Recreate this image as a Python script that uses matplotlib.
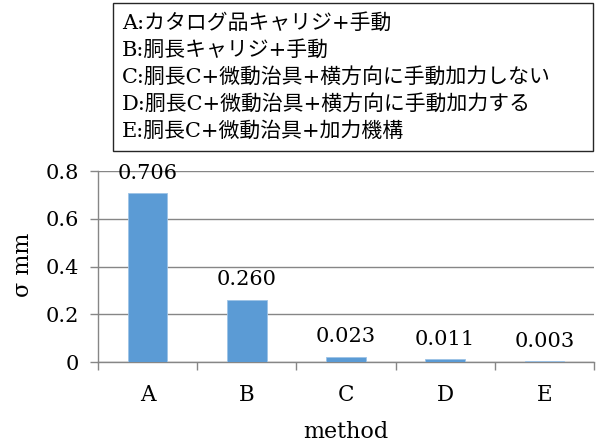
import matplotlib

matplotlib.use("Agg")
import matplotlib.pyplot as plt
import numpy as np
from matplotlib.patches import Rectangle

methods = ["A", "B", "C", "D", "E"]
sigma = [0.706, 0.260, 0.023, 0.011, 0.003]
value_labels = ["0.706", "0.260", "0.023", "0.011", "0.003"]
y_ticks = [0.0, 0.2, 0.4, 0.6, 0.8]
y_tick_labels = ["0", "0.2", "0.4", "0.6", "0.8"]
legend_lines = [
    "A:カタログ品キャリジ+手動",
    "B:胴長キャリジ+手動",
    "C:胴長C+微動治具+横方向に手動加力しない",
    "D:胴長C+微動治具+横方向に手動加力する",
    "E:胴長C+微動治具+加力機構",
]

W, H = 597, 448
GRAY = "#868686"
BLUE = "#5B9BD5"

plt.rcParams["font.family"] = ["DejaVu Serif", "Noto Sans CJK JP"]

fig = plt.figure(figsize=(W / 100, H / 100), dpi=100)
ax = fig.add_axes([98 / W, 1 - 362 / H, (594 - 98) / W, (362 - 171) / H])

x = np.arange(len(methods))
ax.bar(x, sigma, width=0.4, color=BLUE, edgecolor="#9DC3E6", linewidth=0.6, zorder=3)
for xi, v, lab in zip(x, sigma, value_labels):
    ax.annotate(lab, (xi, v), xytext=(0, 10.5), textcoords="offset points",
                ha="center", va="baseline", fontsize=15, zorder=4, annotation_clip=False)

ax.set_xlim(-0.5, len(methods) - 0.5)
ax.set_ylim(0, 0.8)
ax.set_yticks(y_ticks, y_tick_labels)
ax.yaxis.grid(True, color=GRAY, linewidth=1)
ax.set_axisbelow(True)
for side in ("top", "right"):
    ax.spines[side].set_visible(False)
for side in ("left", "bottom"):
    ax.spines[side].set_color(GRAY)
    ax.spines[side].set_linewidth(1)

ax.tick_params(axis="y", length=6, width=1, color=GRAY, pad=8, labelsize=15)
ax.set_xticks(x, methods)
ax.tick_params(axis="x", which="major", length=0, pad=16, labelsize=15.5)
ax.set_xticks(np.arange(-0.5, len(methods)), minor=True)
ax.tick_params(axis="x", which="minor", length=6, width=1, color=GRAY)

ax.set_ylabel("σ mm", fontsize=16, va="center")
ax.yaxis.set_label_coords(-0.151, 0.51)
ax.set_xlabel("method", fontsize=16, va="center")
ax.xaxis.set_label_coords(0.5, -0.366)

fig.add_artist(Rectangle((113 / W, 1 - 151 / H), (593 - 113) / W, (151 - 3) / H,
                         transform=fig.transFigure, fill=False, edgecolor="#262626", linewidth=1))
for i, line in enumerate(legend_lines):
    fig.text(122 / W, 1 - (23 + 27 * i) / H, line, fontsize=15, ha="left", va="center")

fig.savefig("out.png", dpi=100)
plt.close(fig)
